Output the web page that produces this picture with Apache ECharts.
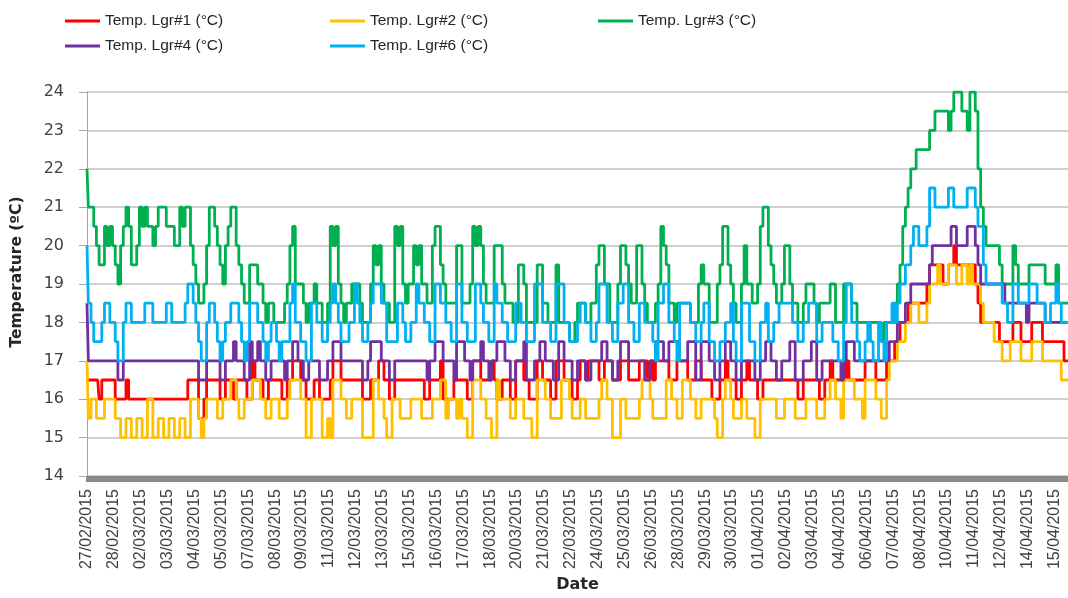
<!DOCTYPE html>
<html>
<head>
<meta charset="utf-8">
<script src="https://cdn.jsdelivr.net/npm/echarts@6/dist/echarts.min.js"></script>
<style>
html,body{margin:0;padding:0;background:#fff;}
#chart{width:1068px;height:598px;}
</style>
</head>
<body>
<div id="chart"></div>
<script>
// Readings every 188 minutes starting 27/02/2015 09:30
const startTimeUTC = Date.UTC(2015, 1, 27, 9, 30);
const stepMinutes = 188;

const seriesNames = ['Temp. Lgr#1 (°C)', 'Temp. Lgr#2 (°C)', 'Temp. Lgr#3 (°C)', 'Temp. Lgr#4 (°C)', 'Temp. Lgr#6 (°C)'];

const lgr1 = [16.5,16.5,16.5,16.5,16.5,16,16.5,16.5,16.5,16.5,
16.5,16,16,16,16,16.5,16,16,16,16,
16,16,16,16,16,16,16,16,16,16,
16,16,16,16,16,16,16,16,16.5,16.5,
16.5,16.5,15.5,15.5,16,16.5,16.5,16.5,16.5,16.5,
16,16,16.5,16.5,16.5,16,16.5,16.5,16.5,16.5,
16,16,17,16.5,16.5,16.5,16,16,16.5,16.5,
16.5,16.5,16.5,16,16,16.5,16.5,17,17,17,
16.5,16.5,16,16,16,16.5,16.5,16,16,16,
16,16.5,17,17,17,16.5,16.5,16.5,16.5,16.5,
16.5,16.5,16.5,16,16,16,16.5,16.5,16.5,17,
17,16.5,16.5,16,16,16.5,16.5,16.5,16.5,16.5,
16.5,16.5,16.5,16.5,16.5,16.5,16,16,16.5,16.5,
16.5,16.5,17,16,16,16,16,16.5,16.5,16.5,
16.5,16.5,16,16,17,17,17,16.5,16.5,16.5,
16.5,17,16.5,16,16,16.5,16.5,16.5,16,16,
17,17,17,16.5,16.5,16,16,16,17,17,
16.5,16.5,16.5,16,16,17,17,17,16.5,16.5,
16.5,16,16,16.5,17,17,16.5,17,17,17,
17,16.5,16.5,17,17,17,16.5,16.5,16.5,17,
17,17,16.5,16.5,16.5,16.5,17,17,17,16.5,
17,16.5,17,17,17,17,17,16.5,16.5,16.5,
17,17,17,17,16.5,16.5,16.5,17,17,16.5,
16.5,16.5,16.5,16,16,16,16.5,16.5,17,16.5,
16.5,16.5,16,16,16.5,16.5,17,16.5,16.5,16.5,
16,16,16.5,16.5,16.5,16.5,16.5,16.5,16.5,16.5,
16.5,16.5,16.5,16.5,16.5,16,16,16.5,16.5,16.5,
16.5,16.5,16.5,16,16,16.5,16.5,17,16.5,16.5,
16.5,16.5,16.5,17,16.5,16.5,16.5,16.5,16.5,16.5,
17,17,17,17,16.5,16.5,16.5,16.5,17,17,
17,17.5,17.5,18,18,18,18.5,18.5,18.5,18.5,
18.5,18.5,18.5,19,19.5,19.5,19.5,19.5,19.5,19,
19,19.5,19.5,20,19.5,19.5,19.5,19.5,19.5,19.5,
19.5,19,18.5,18,18,18,18,18,18,18,
17.5,17.5,17.5,17.5,17.5,18,18,18,17.5,17.5,
17.5,17.5,18,18,18,18,17.5,17.5,17.5,17.5,
17.5,17.5,17.5,17.5,17,17];

const lgr2 = [17,15.5,16,16,15.5,15.5,15.5,16,16,16,
16,15.5,15.5,15,15,15.5,15.5,15,15,15.5,
15.5,15,15,16,16,15,15,15.5,15.5,15,
15,15.5,15.5,15,15,15.5,15.5,15,15,16,
16,16,15.5,15,15.5,16,16,16,16,15.5,
15.5,16,16,16,16.5,16.5,16,15.5,15.5,16,
16,16,16.5,16.5,16.5,16,16,15.5,15.5,16,
16,16,15.5,15.5,15.5,16,16.5,16.5,16.5,16.5,
16,16,15,15,16,16,16,16,15,15,
15.5,15,16.5,16.5,16.5,16,16,15.5,15.5,16,
16,16,16,15,15,15,15,16.5,16.5,16,
16,15.5,15,15,16,16,16,15.5,15.5,15.5,
15.5,16,16,16,16,15.5,15.5,15.5,15.5,16,
16,16,16.5,16.5,15.5,16,16,16,15.5,16,
15.5,15.5,15,15,16.5,16.5,16.5,16,16,15.5,
15.5,15,15,16.5,16,16,16,16,15.5,15.5,
16,16,16,15.5,15.5,15.5,15,15,16.5,16.5,
16.5,16,16,15.5,15.5,15.5,15.5,16.5,16.5,16.5,
16,15.5,15.5,15.5,16,16,15.5,15.5,15.5,15.5,
15.5,16,16.5,16.5,16,16,15,15,15,16,
16,15.5,15.5,15.5,15.5,15.5,16,16.5,16.5,16.5,
16,15.5,15.5,15.5,15.5,15.5,16.5,16.5,16,16,
15.5,15.5,16.5,16.5,16.5,16,16,15.5,15.5,16,
16,16,16,16,15.5,15,15,16,16.5,16.5,
16,15.5,15.5,15.5,16,16,15.5,15.5,15.5,15,
15,16,16,16,16,16,16,15.5,15.5,15.5,
16,16,16,16,15.5,15.5,15.5,15.5,16,16,
16,16,15.5,15.5,15.5,16,16,16.5,16.5,16,
16,15.5,16.5,16.5,16.5,16.5,16,16,16,15.5,
16.5,16.5,16.5,16.5,16,16,15.5,15.5,16.5,17,
17,17,17.5,17.5,17.5,18,18,18.5,18.5,18.5,
18,18,18,18.5,19,19,19,19.5,19,19,
19,19.5,19.5,19.5,19,19,19.5,19.5,19,19.5,
19,19,19,18.5,18,18,18,18,17.5,17.5,
17.5,17,17,17,17.5,17.5,17.5,17.5,17,17,
17,17,17.5,17.5,17.5,17.5,17,17,17,17,
17,17,17,16.5,16.5,16.5];

const lgr3 = [22,21,21,20.5,20,19.5,19.5,20.5,20,20.5,
20,19.5,19,20,20.5,21,20.5,19.5,19.5,20,
21,20.5,21,20.5,20.5,20,20.5,21,21,21,
20.5,20.5,20.5,20,20,21,20.5,21,21,20,
19.5,19,18.5,18.5,19,20,21,21,20.5,20,
19.5,19,20,20.5,21,21,20,19.5,19,18.5,
18.5,19.5,19.5,19.5,19,19,18.5,18,18.5,18.5,
18,18,18,18,18.5,19,20,20.5,19,19,
19,18.5,18,18.5,18.5,19,18.5,18.5,18,18,
18.5,20.5,20,20.5,19,18.5,18,18.5,18.5,19,
19,19,18.5,18,18,18,19,20,19.5,20,
19,18.5,18.5,18,18,20.5,20,20.5,19,18.5,
19,19,20,19.5,20,19,19,18.5,18.5,20,
20.5,20.5,19.5,19,18.5,18.5,18.5,18.5,20,20,
18.5,18.5,18.5,19,20.5,20,20.5,20,19,18.5,
18.5,18.5,20,20,20,19,18.5,18.5,18.5,18,
18,19.5,19.5,19,18,18,18,18,19.5,19.5,
18.5,18.5,18,18,18,19.5,18,18,18,18,
17.5,17.5,18,18.5,18.5,18.5,18,18,18.5,18.5,
19.5,20,20,19,19,18,18,18,19,20,
20,19.5,19,18.5,18.5,20,20,19,18.5,18,
18,18,18.5,19,20.5,20,19.5,18.5,18.5,18,
18.5,18.5,18.5,18.5,18.5,18,18,18,19,19.5,
19,19,18,18,18,19,19.5,20.5,20.5,19.5,
19,18.5,18,18,19,20,19,19,18.5,18.5,
19,20.5,21,21,20,19.5,19,18.5,18.5,19,
20,20,19,18.5,18.5,18,18,18.5,19,19,
19,18.5,18,18.5,18.5,18.5,18.5,19,19,18,
18,18,19,19,19,18.5,18.5,18,18,18,
18,18,18,18,18,18,17.5,18,18,18,
18,18.5,19,19.5,20.5,21,21.5,22,22,22.5,
22.5,22.5,22.5,22.5,23,23,23.5,23.5,23.5,23.5,
23.5,23,23.5,24,24,24,23.5,23.5,23,24,
24,23.5,22,21,20.5,20,20,20,20,20,
19.5,19,19,19,19,20,19.5,19,19,19,
19,19.5,19.5,19.5,19.5,19.5,19.5,19,19,19,
19,19.5,18.5,18.5,18.5,18.5];

const lgr4 = [18.5,17,17,17,17,17,17,17,17,17,
17,17,16.5,16.5,17,17,17,17,17,17,
17,17,17,17,17,17,17,17,17,17,
17,17,17,17,17,17,17,17,17,17,
17,17,16.5,16.5,16.5,17,17,17,17,17,
16.5,16.5,17,17,17,17.5,17,17,17,16.5,
16.5,17.5,17,17,17.5,17,17,16.5,16.5,17,
17,17,17,17,16.5,17,17,17.5,17.5,17,
17,16.5,16.5,17,17,17,17,16.5,16.5,16.5,
17,17,17.5,17.5,17.5,17,17,17,17,17,
17,17,17,16.5,16.5,17,17.5,17.5,17.5,17.5,
17,17,17,16.5,16.5,17,17,17,17,17,
17,17,17,17,17,17,17,16.5,17,17,
17.5,17.5,17.5,17,17,17,17,16.5,17.5,17.5,
17.5,17,17,16.5,17,17,17,17.5,17,17,
16.5,17,17,17.5,17.5,17.5,17,17,16.5,16.5,
17,17,17,17.5,16.5,16.5,16.5,17,17,17.5,
17.5,17,17,17,16.5,16.5,17.5,17.5,17,17,
17,16.5,16.5,17,17,17,16.5,16.5,17,17,
17,17,17.5,17.5,17,17,16.5,16.5,17,17.5,
17.5,17.5,17,17,17,17,17,17,16.5,16.5,
17,17,17.5,17.5,17.5,17,17,17.5,17.5,17.5,
17.5,17,17,17,17.5,17.5,17.5,16.5,16.5,17.5,
17.5,17.5,17,17,16.5,16.5,17,17,17.5,17.5,
17,17,16.5,16.5,17,17,17,17,17,16.5,
16.5,17,17,17.5,17.5,17,17,16.5,16.5,17,
17,17,17.5,17.5,16.5,16.5,16.5,17,17,17,
17.5,17.5,16.5,16.5,17,17,17,17,17,17,
17,16.5,17,17.5,17.5,17.5,17,17,17,17,
17,17,17,17,17,17,17,17,17,17.5,
17.5,17.5,18,18,18,18.5,18.5,19,19,19,
19,19,19,19,19.5,20,20,20,20,20,
20,20,20.5,20.5,20,20,20,20,20.5,20.5,
20.5,20,19.5,19,19,19,19,19,19,19,
19,19,18.5,18.5,18.5,18.5,18.5,18.5,18.5,18.5,
18,18.5,18.5,18.5,18.5,18.5,18.5,18,18,18,
18,18,18,18,18,18];

const lgr6 = [20,18.5,18,17.5,17.5,17.5,18,18.5,18.5,18,
18,17.5,17,17,18,18.5,18.5,18,18,18,
18,18,18.5,18.5,18.5,18,18,18,18,18,
18.5,18.5,18,18,18,18,18,18.5,19,19,
18.5,18,17.5,17,17,18,18.5,18.5,18,17.5,
17,17.5,18,18,18.5,18.5,18.5,18,17.5,17,
17.5,18.5,18.5,18.5,18,18,17.5,17,17.5,18,
18,17.5,17,17.5,17.5,17.5,18.5,19,18,18,
17.5,17.5,17,17,18.5,18.5,18,18,17.5,17.5,
18,18.5,19,18.5,18,17.5,17.5,17.5,18,18,
19,18.5,18,17.5,17.5,18,18.5,19,19,19,
18.5,18.5,17.5,17.5,17.5,17.5,18.5,18.5,18,17.5,
17.5,18,18,19,18.5,18.5,18,18,17.5,17.5,
19,19,18.5,18.5,18,18,17.5,17.5,19,19,
18,18,17.5,17.5,17.5,19,19,18.5,18,18,
17.5,17.5,19,18.5,18.5,18,18,17.5,17.5,17.5,
18.5,18.5,18,18,17.5,17.5,17.5,19,19,19,
18,18,18,17.5,17.5,19,19,19,18,18,
17.5,17.5,17.5,18,18.5,18.5,18,18,17.5,17.5,
18,19,19,19,18,18,17.5,17.5,18.5,18.5,
19,19,18,18,17.5,17.5,18.5,18.5,18,18,
18,17.5,17,18.5,18.5,19,19,18,18,17.5,
17,18.5,18.5,18.5,18.5,18,18,17.5,17.5,18,
18.5,18.5,17.5,17.5,17,17,17.5,17.5,18,18,
18.5,17.5,17,17,18.5,18.5,18.5,17.5,17.5,17,
17,18,18,18.5,17.5,17.5,18,18,18.5,18.5,
18.5,18.5,18.5,18,18,17.5,17.5,18,18,18.5,
18.5,18.5,17.5,17.5,18,18,18,18,17.5,17.5,
17,17,18,19,19,18,18,17.5,17,17,
17.5,18,17.5,17,17,18,17.5,17,18,18,
18.5,18,18.5,19,19,19.5,19.5,20,20.5,20.5,
20,20,20,20.5,21.5,21.5,21,21,21,21,
21,21.5,21.5,21,21,21,21,21,21.5,21.5,
21.5,21,20.5,20.5,19.5,19,19,19,19,19,
19,18.5,18.5,18,18,19,19,18.5,18.5,18.5,
18.5,19,19,19,18.5,18.5,18.5,18,18,18.5,
18.5,19,18.5,18,18,18];

const seriesData = [lgr1, lgr2, lgr3, lgr4, lgr6];
const seriesColors = ['#FF0000', '#FFC000', '#00B050', '#7030A0', '#00B0F0'];

function pad(n) { return (n < 10 ? '0' : '') + n; }
const categories = lgr1.map(function (_, i) {
  const d = new Date(startTimeUTC + i * stepMinutes * 60000);
  return pad(d.getUTCDate()) + '/' + pad(d.getUTCMonth() + 1) + '/' + d.getUTCFullYear() + ' ' + pad(d.getUTCHours()) + ':' + pad(d.getUTCMinutes());
});

const legendPos = [
  { left: 65, top: 12 },
  { left: 330, top: 12 },
  { left: 598, top: 12 },
  { left: 65, top: 37 },
  { left: 330, top: 37 }
];

const chart = echarts.init(document.getElementById('chart'), null, { renderer: 'canvas' });
const option = {
  animation: false,
  backgroundColor: '#ffffff',
  legend: seriesNames.map(function (name, k) {
    return {
      data: [name],
      left: legendPos[k].left,
      top: legendPos[k].top,
      padding: 0,
      icon: 'rect',
      itemWidth: 35,
      itemHeight: 3,
      itemGap: 0,
      selectedMode: false,
      textStyle: { fontFamily: 'Liberation Sans', fontSize: 15.5, color: '#262626', lineHeight: 18, padding: [0, 0, 0, 0] }
    };
  }),
  grid: { left: 87, right: 0, top: 92, bottom: 114, containLabel: false },
  xAxis: {
    type: 'category',
    boundaryGap: false,
    data: categories,
    name: 'Date',
    nameLocation: 'middle',
    nameGap: 100,
    nameTextStyle: { fontFamily: 'DejaVu Sans', fontWeight: 'bold', fontSize: 16, color: '#262626' },
    axisLine: { show: true, lineStyle: { color: '#8a8a8a', width: 1 } },
    axisTick: { show: true, interval: 0, length: 6, lineStyle: { color: '#8a8a8a', width: 3 } },
    axisLabel: {
      interval: 9,
      rotate: 90,
      margin: 13,
      fontFamily: 'Liberation Sans',
      fontSize: 16,
      color: '#404040',
      formatter: function (v) { return v.slice(0, 10); }
    },
    splitLine: { show: false }
  },
  yAxis: {
    type: 'value',
    min: 14,
    max: 24,
    interval: 1,
    name: 'Temperature (ºC)',
    nameLocation: 'middle',
    nameRotate: 90,
    nameGap: 62,
    nameTextStyle: { fontFamily: 'DejaVu Sans', fontWeight: 'bold', fontSize: 15.5, color: '#262626', padding: [0, 0, 0, 24] },
    axisLine: { show: true, lineStyle: { color: '#a6a6a6', width: 1 } },
    axisTick: { show: true, length: 8, lineStyle: { color: '#a6a6a6', width: 1 } },
    axisLabel: { margin: 23, fontFamily: 'DejaVu Sans', fontSize: 16, color: '#404040' },
    splitLine: { show: true, lineStyle: { color: '#c0c0c0', width: 1.5 } }
  },
  series: seriesNames.map(function (name, k) {
    return {
      name: name,
      type: 'line',
      step: 'middle',
      data: seriesData[k],
      showSymbol: false,
      symbol: 'none',
      color: seriesColors[k],
      lineStyle: { color: seriesColors[k], width: 2.8 },
      emphasis: { disabled: true },
      z: 2 + k
    };
  })
};
chart.setOption(option);
</script>
</body>
</html>
